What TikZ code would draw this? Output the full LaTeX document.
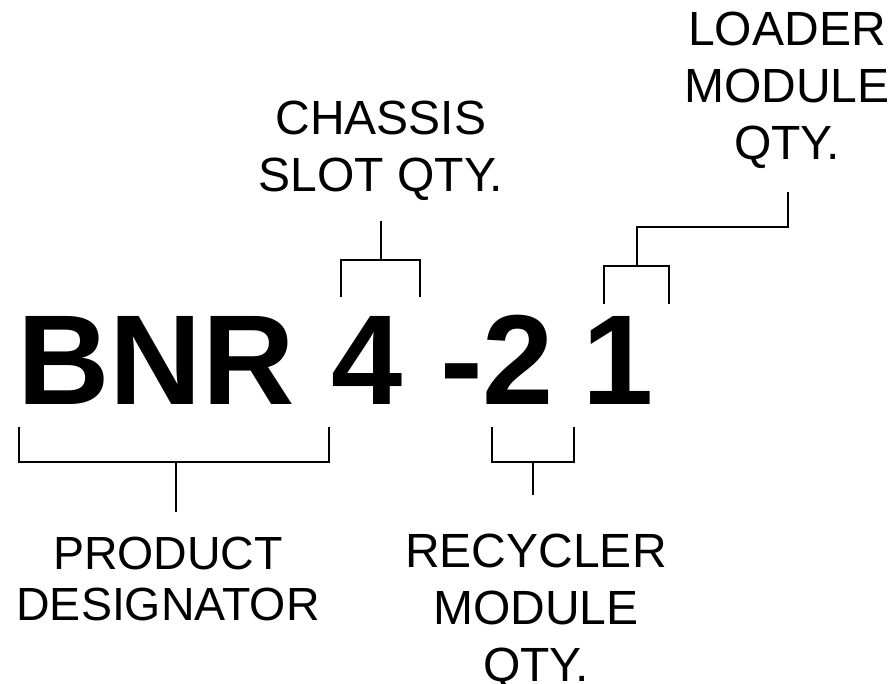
\documentclass[tikz,border=0pt]{standalone}
\usepackage{fontspec}
\setmainfont{Liberation Sans}
\usepackage{tikz}
\usetikzlibrary{positioning}

\begin{document}
\begin{tikzpicture}[
    x=1pt, y=-1pt,
    part/.style={inner sep=0pt, anchor=base west, font=\fontsize{128}{150}\selectfont\bfseries},
    label/.style={inner sep=0pt, anchor=north, align=center, font=\fontsize{48}{57}\selectfont},
    bracket/.style={draw, line width=2.5pt, line cap=butt}
]
\useasboundingbox (0,0) rectangle (892,684);

% part number
\node[part] (bnr) at (17,405) {BNR};
\node[part] (slots) at (331,405) {4};
\node[part] (recyc) at (440,405) {-2};
\node[part] (loader) at (582,405) {1};

% labels
\node[label] (chassis) at (381,101) {CHASSIS\\SLOT QTY.};
\node[label] (loadqty) at (787,12) {LOADER\\MODULE\\QTY.};
\node[label, font=\fontsize{46.5}{51}\selectfont] (product) at (168,537) {PRODUCT\\DESIGNATOR};
\node[label] (recycqty) at (536,534) {RECYCLER\\MODULE\\QTY.};

% brackets
\coordinate (product-stem) at (176,512);
\coordinate (chassis-stem) at (381,221);
\coordinate (recyc-stem) at (533,495);
\coordinate (loader-stem) at (788,192);

\draw[bracket] (19,427) |- (329,462) -- (329,427);
\draw[bracket] (176,462) -- (product-stem);
\draw[bracket] (341,297) |- (420,260) -- (420,297);
\draw[bracket] (381,260) -- (chassis-stem);
\draw[bracket] (492,427) |- (574,462) -- (574,427);
\draw[bracket] (533,462) -- (recyc-stem);
\draw[bracket] (604,304) |- (669,266) -- (669,304);
\draw[bracket] (637,266) -- (637,227) -| (loader-stem);
\end{tikzpicture}
\end{document}
